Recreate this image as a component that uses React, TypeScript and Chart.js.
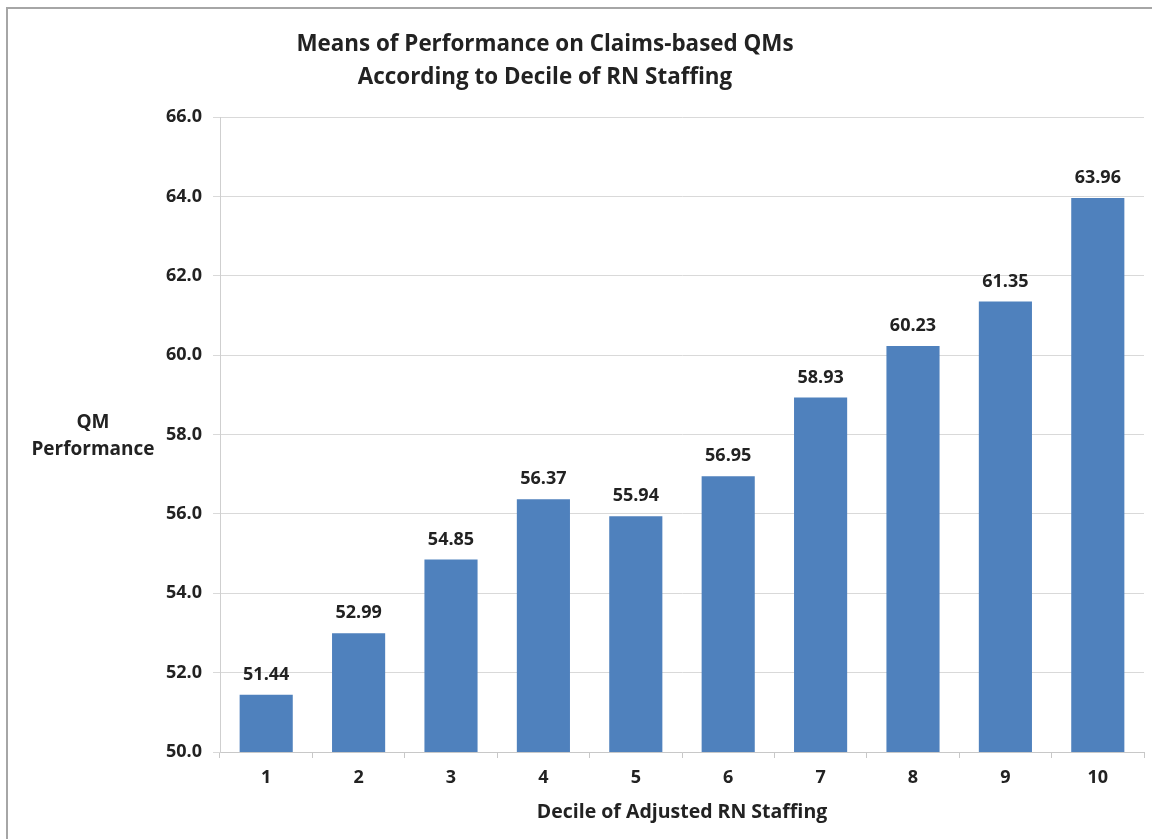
import React, { useEffect, useRef } from "react";
import { Chart, registerables } from "chart.js";

Chart.register(...registerables);

const categories = ["1", "2", "3", "4", "5", "6", "7", "8", "9", "10"];
const values = [51.44, 52.99, 54.85, 56.37, 55.94, 56.95, 58.93, 60.23, 61.35, 63.96];
const titleLines = ["Means of Performance on Claims-based QMs", "According to Decile of RN Staffing"];
const yTitleLines = ["QM", "Performance"];
const xTitle = "Decile of Adjusted RN Staffing";

const FONT = "'Open Sans', 'Liberation Sans', sans-serif";
const TEXT = "#222222";

const decorPlugin = {
  id: "decor",
  beforeDraw(chart: any) {
    const ctx = chart.ctx;
    ctx.save();
    ctx.fillStyle = "#ffffff";
    ctx.fillRect(0, 0, chart.width, chart.height);
    ctx.strokeStyle = "#a6a6a6";
    ctx.lineWidth = 2;
    ctx.beginPath();
    ctx.moveTo(7, chart.height);
    ctx.lineTo(7, 8);
    ctx.lineTo(chart.width, 8);
    ctx.stroke();
    ctx.restore();
  },
  afterDraw(chart: any) {
    const ctx = chart.ctx;
    ctx.save();
    ctx.fillStyle = TEXT;
    ctx.textAlign = "center";
    ctx.textBaseline = "middle";
    ctx.font = `bold 22.4px ${FONT}`;
    titleLines.forEach((t, i) => ctx.fillText(t, 545, 45 + i * 33));
    ctx.font = `bold 19px ${FONT}`;
    yTitleLines.forEach((t, i) => ctx.fillText(t, 93, 423 + i * 27));
    const meta = chart.getDatasetMeta(0);
    ctx.font = `bold 18px ${FONT}`;
    meta.data.forEach((bar: any, i: number) => {
      ctx.fillText(values[i].toFixed(2), bar.x, bar.y - 20);
    });
    ctx.restore();
  },
};

export default function App() {
  const ref = useRef<HTMLCanvasElement>(null);
  useEffect(() => {
    if (!ref.current) return;
    const chart = new Chart(ref.current, {
      type: "bar",
      data: {
        labels: categories,
        datasets: [
          {
            data: values,
            backgroundColor: "#4F81BD",
            borderWidth: 0,
            barPercentage: 0.575,
            categoryPercentage: 1,
          },
        ],
      },
      options: {
        responsive: false,
        animation: false,
        devicePixelRatio: 1,
        layout: { padding: { top: 117, left: 160, right: 8, bottom: 0 } },
        plugins: {
          legend: { display: false },
          tooltip: { enabled: false },
          title: { display: false },
        },
        scales: {
          x: {
            offset: true,
            grid: {
              offset: true,
              drawOnChartArea: false,
              drawTicks: true,
              tickLength: 6,
              color: "#c8c8c8",
            },
            border: { display: true, color: "#c8c8c8", width: 1 },
            ticks: {
              color: TEXT,
              padding: 9,
              font: { family: FONT, size: 18, weight: "bold" },
            },
            title: {
              display: true,
              text: xTitle,
              color: TEXT,
              font: { family: FONT, size: 19.5, weight: "bold" },
              padding: { top: 6, bottom: 15 },
            },
            afterFit(scale: any) {
              scale.height = 87;
            },
          },
          y: {
            min: 50,
            max: 66,
            grid: {
              color: "#d9d9d9",
              tickLength: 7,
              lineWidth: 1,
            },
            border: { display: true, color: "#cfcfcf", width: 1 },
            ticks: {
              stepSize: 2,
              color: TEXT,
              padding: 11,
              font: { family: FONT, size: 18, weight: "bold" },
              callback: (v: any) => Number(v).toFixed(1),
            },
            afterFit(scale: any) {
              scale.width = 60;
            },
          },
        },
      },
      plugins: [decorPlugin],
    } as any);
    return () => chart.destroy();
  }, []);
  return (
    <div style={{ position: "fixed", left: 0, top: 0, width: 1152, height: 839, background: "#fff" }}>
      <canvas ref={ref} width={1152} height={839} />
    </div>
  );
}
